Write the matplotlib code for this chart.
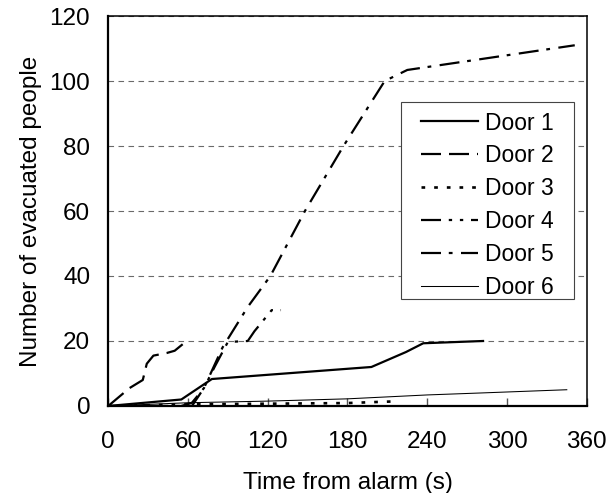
import matplotlib
matplotlib.use("Agg")
import matplotlib.pyplot as plt
from matplotlib.patches import Rectangle

plt.rcParams['font.family'] = ['Liberation Sans', 'DejaVu Sans']
plt.rcParams['font.size'] = 17.5

# evacuation curves (time in s, people)
door1_t = [0, 55, 78, 198, 224, 237, 282]
door1_n = [0, 2, 8.3, 12, 16.6, 19.3, 20]

door2_t = [0, 16, 26, 29, 34, 44, 50, 56]
door2_n = [0, 5.5, 8, 13, 15.5, 16.3, 17, 19]

door3_t = [0, 60, 120, 180, 200, 215]
door3_n = [0, 0.5, 0.7, 0.9, 1.2, 1.4]

door4_t = [55, 63, 72, 80, 90, 105, 110, 118, 123, 130]
door4_n = [0, 1, 5.5, 12, 19.7, 20, 23, 27, 29.5, 29.5]

door5_t = [0, 63, 72, 86, 105, 122, 148, 177, 208, 213, 225, 351]
door5_n = [0, 0, 5.5, 18, 30.5, 40, 60, 80, 100, 101, 103.4, 111]

door6_t = [0, 60, 120, 180, 240, 280, 345]
door6_n = [0, 1, 1.5, 2.2, 3.4, 4, 5]

x_ticks = [0, 60, 120, 180, 240, 300, 360]
y_ticks = [0, 20, 40, 60, 80, 100, 120]

fig = plt.figure(figsize=(6.08, 4.93), dpi=100)
ax = fig.add_axes([0.178, 0.1765, 0.787, 0.791])

ax.plot(door1_t, door1_n, color='black', lw=1.6, label='Door 1')
ax.plot(door2_t, door2_n, color='black', lw=1.6, dashes=(9, 3.6), label='Door 2')
ax.plot(door3_t, door3_n, color='black', lw=1.9, dashes=(1.4, 3.4), label='Door 3')
ax.plot(door4_t, door4_n, color='black', lw=1.6, dashes=(9, 3.5, 1.5, 3.5, 1.5, 3.5), label='Door 4')
ax.plot(door5_t, door5_n, color='black', lw=1.6, dashes=(9, 3.5, 1.7, 3.8), label='Door 5')
ax.plot(door6_t, door6_n, color='black', lw=0.75, label='Door 6')

ax.set_xlim(0, 360)
ax.set_ylim(0, 120)
ax.set_xticks(x_ticks)
ax.set_yticks(y_ticks)
ax.yaxis.grid(True, color='#6a6a6a', lw=0.8, dashes=(5, 4))
ax.set_axisbelow(True)

ax.tick_params(axis='x', direction='in', length=6, width=1, color='#555555', pad=18)
ax.tick_params(axis='y', direction='in', length=0, pad=13)

for side in ['left', 'bottom']:
    ax.spines[side].set_linewidth(1.6)
for side in ['right', 'top']:
    ax.spines[side].set_linewidth(1.1)

ax.set_xlabel('Time from alarm (s)', labelpad=14)
ax.set_ylabel('Number of evacuated people', labelpad=5)

# legend box drawn by hand: the original has wide side padding
box = Rectangle((0.612, 0.274), 0.361, 0.505, transform=ax.transAxes,
                facecolor='white', edgecolor='#444444', lw=0.8, zorder=4)
ax.add_patch(box)
leg = ax.legend(loc='center', bbox_to_anchor=(0.7925, 0.515), frameon=False,
                fontsize=16.5, handlelength=2.5, labelspacing=0.43,
                borderpad=0, handletextpad=0.3, borderaxespad=0)
leg.set_zorder(5)

fig.savefig('out.png', dpi=100)
